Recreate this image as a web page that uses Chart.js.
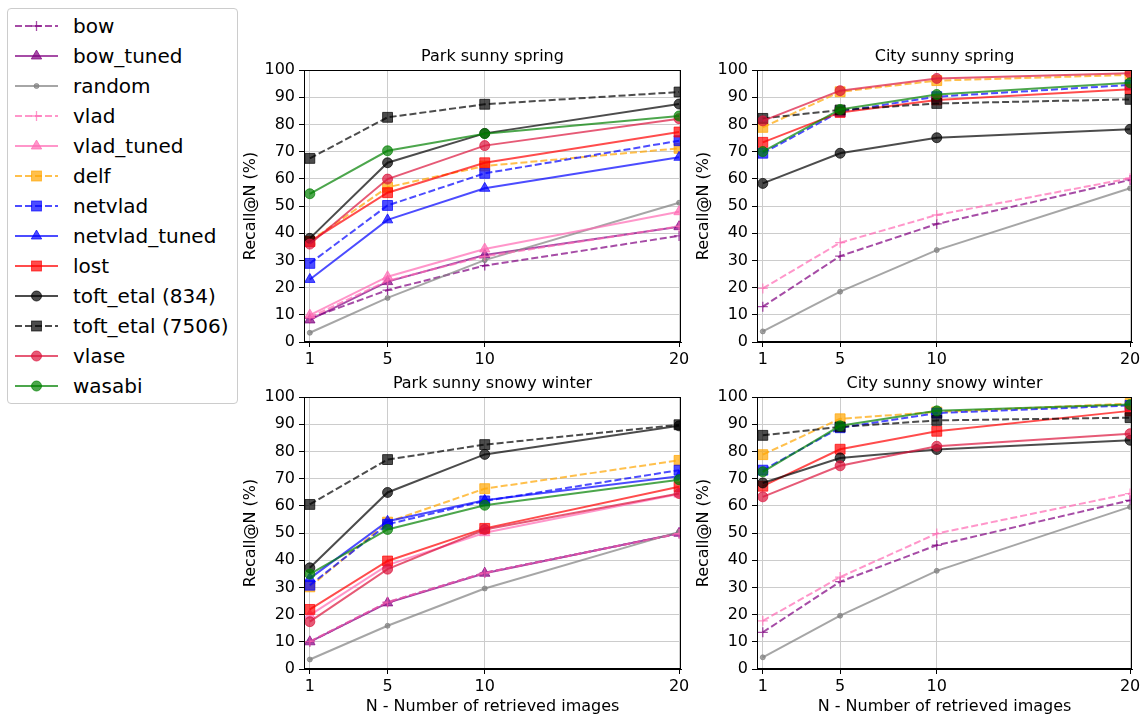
<!DOCTYPE html>
<html>
<head>
<meta charset="utf-8">
<script src="https://cdn.jsdelivr.net/npm/chart.js@4.4.0/dist/chart.umd.min.js"></script>
<style>
  body { margin: 0; background: #fff; overflow: hidden; font-family: "DejaVu Sans", sans-serif; }
  canvas { position: absolute; }
  #legend { position: absolute; left: 7px; top: 8px; width: 229px; height: 394px;
            border: 1px solid #cccccc; border-radius: 4px; background: #fff; }
  .item { position: absolute; left: 0; height: 30px; width: 229px; }
  .item svg { position: absolute; left: 6px; top: 0; }
  .item span { position: absolute; left: 65px; top: 3px; font-size: 20px; line-height: 24px; color: #000; white-space: nowrap; }
</style>
</head>
<body>
<div id="legend"></div>
<canvas id="parkSpring"></canvas>
<canvas id="citySpring"></canvas>
<canvas id="parkWinter"></canvas>
<canvas id="cityWinter"></canvas>
<script>
/* values: Recall@N (%) for N = 1, 5, 10, 20 */
var nValues = [1, 5, 10, 20];
var yTicks = [0, 10, 20, 30, 40, 50, 60, 70, 80, 90, 100];
var methods = ['bow', 'bow_tuned', 'random', 'vlad', 'vlad_tuned', 'delf', 'netvlad',
               'netvlad_tuned', 'lost', 'toft_etal (834)', 'toft_etal (7506)', 'vlase', 'wasabi'];

// one row per method, same order as methods (null = not shown in that panel)
var parkSpring = [
  [8.7, 19.1, 28.1, 39.0],   // bow
  [8.1, 22.2, 32.0, 42.4],   // bow_tuned
  [3.4, 16.2, 30.1, 51.2],   // random
  [9.0, 22.5, 31.5, 42.5],   // vlad
  [9.9, 24.0, 34.2, 47.9],   // vlad_tuned
  [37.0, 56.9, 64.7, 71.2],  // delf
  [28.9, 50.2, 62.0, 74.0],  // netvlad
  [23.0, 44.9, 56.5, 67.9],  // netvlad_tuned
  [36.9, 54.9, 65.9, 77.2],  // lost
  [38.1, 65.9, 76.7, 87.5],  // toft_etal (834)
  [67.5, 82.6, 87.4, 91.9],  // toft_etal (7506)
  [36.0, 59.9, 72.2, 82.1],  // vlase
  [54.5, 70.3, 76.6, 83.1]   // wasabi
];
var citySpring = [
  [13.0, 31.6, 43.4, 59.6],
  null,
  [3.9, 18.5, 33.8, 56.5],
  [19.7, 36.5, 46.7, 60.2],
  null,
  [78.9, 92.0, 96.1, 98.2],
  [69.4, 84.7, 90.2, 94.5],
  null,
  [73.4, 84.4, 89.0, 92.9],
  [58.3, 69.4, 75.1, 78.2],
  [82.2, 85.3, 87.7, 89.2],
  [81.3, 92.4, 96.9, 98.8],
  [70.0, 85.5, 91.0, 95.3]
];
var parkWinter = [
  [10.0, 24.5, 35.4, 49.8],
  [10.0, 24.3, 35.2, 49.9],
  [3.5, 15.9, 29.6, 50.4],
  [10.1, 24.6, 35.3, 49.8],
  [19.8, 38.2, 50.1, 64.3],
  [30.2, 54.0, 66.3, 76.7],
  [30.8, 53.2, 61.8, 73.1],
  [33.3, 54.3, 62.0, 70.9],
  [21.9, 39.7, 51.7, 67.0],
  [37.2, 64.9, 78.9, 89.4],
  [60.5, 77.0, 82.5, 89.8],
  [17.4, 36.7, 51.3, 64.5],
  [34.9, 51.3, 60.2, 69.6]
];
var cityWinter = [
  [13.5, 32.1, 45.5, 62.0],
  null,
  [4.3, 19.6, 36.1, 59.6],
  [17.7, 33.8, 49.8, 64.5],
  null,
  [78.8, 92.0, 94.5, 97.6],
  [73.1, 88.7, 94.1, 96.9],
  null,
  [67.2, 80.8, 87.4, 94.9],
  [68.4, 77.6, 80.7, 84.1],
  [85.9, 89.0, 91.4, 92.4],
  [63.3, 74.7, 81.9, 86.5],
  [72.5, 89.4, 94.9, 97.2]
];

/* styles, matplotlib-ish with alpha 0.7 */
var colors = ['rgba(128,0,128,0.7)', 'rgba(128,0,128,0.7)', 'rgba(128,128,128,0.7)',
              'rgba(255,105,180,0.7)', 'rgba(255,105,180,0.7)', 'rgba(255,165,0,0.7)',
              'rgba(0,0,255,0.7)', 'rgba(0,0,255,0.7)', 'rgba(255,0,0,0.7)',
              'rgba(0,0,0,0.7)', 'rgba(0,0,0,0.7)', 'rgba(220,20,60,0.7)', 'rgba(0,128,0,0.7)'];
var markers = ['+', '^', '.', '+', '^', 's', 's', '^', 's', 'o', 's', 'o', 'o'];
var dashed = [true, false, false, true, false, true, true, false, false, false, true, false, false];

var markerStyle = {
  '+': { style: 'cross', radius: 5 },
  '^': { style: 'triangle', radius: 6 },
  '.': { style: 'circle', radius: 2.5 },
  's': { style: 'rect', radius: 7 },
  'o': { style: 'circle', radius: 5 }
};

Chart.defaults.font.family = '"DejaVu Sans", sans-serif';
Chart.defaults.font.size = 16;
Chart.defaults.color = '#000';

// title over the plot area + the four spines
var panelDeco = {
  id: 'panelDeco',
  afterDraw: function(chart, args, opts) {
    var a = chart.chartArea;
    var ctx = chart.ctx;
    ctx.save();
    ctx.strokeStyle = '#000';
    ctx.lineWidth = 1;
    ctx.strokeRect(a.left + 0.5, a.top + 0.5, a.right - a.left - 1, a.bottom - a.top - 1);
    ctx.font = '16px "DejaVu Sans"';
    ctx.fillStyle = '#000';
    ctx.textAlign = 'center';
    ctx.textBaseline = 'middle';
    ctx.fillText(opts.text, (a.left + a.right) / 2, a.top - 13);
    ctx.restore();
  }
};

function makePanel(id, title, rows, plotLeft, plotWidth, canvasTop, canvasHeight, showXTitle) {
  var canvas = document.getElementById(id);
  var padRight = 14;
  canvas.width = plotWidth + 64 + padRight;
  canvas.height = canvasHeight;
  canvas.style.left = (plotLeft - 64) + 'px';
  canvas.style.top = canvasTop + 'px';

  var datasets = [];
  for (var i = 0; i < methods.length; i++) {
    var ys = rows[i];
    var m = markerStyle[markers[i]];
    var pts = [];
    if (ys) {
      for (var j = 0; j < nValues.length; j++) pts.push({ x: nValues[j], y: ys[j] });
    }
    datasets.push({
      label: methods[i],
      data: pts,
      borderColor: colors[i],
      backgroundColor: colors[i],
      borderWidth: 2,
      borderDash: dashed[i] ? [7, 3] : [],
      pointStyle: m.style,
      pointRadius: m.radius,
      pointBorderWidth: markers[i] == '+' ? 1.3 : 1,
      pointBackgroundColor: colors[i],
      pointBorderColor: colors[i],
      tension: 0,
      clip: 0,
      order: methods.length - i
    });
  }

  new Chart(canvas.getContext('2d'), {
    type: 'line',
    data: { datasets: datasets },
    options: {
      responsive: false,
      animation: false,
      devicePixelRatio: 1,
      layout: { padding: { top: 30, right: padRight, left: 0, bottom: 0 } },
      plugins: {
        legend: { display: false },
        tooltip: { enabled: false },
        panelDeco: { text: title }
      },
      scales: {
        x: {
          type: 'linear',
          min: 0.7,
          max: 20.1,
          afterBuildTicks: function(scale) {
            scale.ticks = nValues.map(function(v) { return { value: v }; });
          },
          afterFit: function(scale) { scale.height = showXTitle ? 49 : 28; },
          ticks: { padding: 3, maxRotation: 0, autoSkip: false,
                   callback: function(v) { return String(v); } },
          grid: { color: '#cccccc', lineWidth: 1, tickColor: '#000', tickLength: 5 },
          border: { color: '#000', width: 1 },
          title: { display: showXTitle, text: 'N - Number of retrieved images',
                   padding: { top: 2, bottom: 2 } }
        },
        y: {
          min: 0,
          max: 100,
          afterBuildTicks: function(scale) {
            scale.ticks = yTicks.map(function(v) { return { value: v }; });
          },
          afterFit: function(scale) { scale.width = 64; },
          ticks: { padding: 4 },
          grid: { color: '#cccccc', lineWidth: 1, tickColor: '#000', tickLength: 5 },
          border: { color: '#000', width: 1 },
          title: { display: true, text: 'Recall@N (%)', padding: { top: 1, bottom: 0 } }
        }
      }
    },
    plugins: [panelDeco]
  });
}

makePanel('parkSpring', 'Park sunny spring', parkSpring, 304, 377, 40, 330, false);
makePanel('citySpring', 'City sunny spring', citySpring, 757, 375, 40, 330, false);
makePanel('parkWinter', 'Park sunny snowy winter', parkWinter, 304, 377, 367, 351, true);
makePanel('cityWinter', 'City sunny snowy winter', cityWinter, 757, 375, 367, 351, true);

/* legend on the left, built from the same lists */
function markerSvg(mk, color, cx, cy) {
  var r = markerStyle[mk].radius;
  if (mk == '+') {
    return '<path d="M' + (cx - r) + ' ' + cy + 'H' + (cx + r) + 'M' + cx + ' ' + (cy - r) + 'V' + (cy + r) +
           '" stroke="' + color + '" stroke-width="1.3"/>';
  }
  if (mk == '^') {
    var w = r * 0.866;
    return '<path d="M' + cx + ' ' + (cy - r) + 'L' + (cx + w) + ' ' + (cy + r / 2) + 'L' + (cx - w) + ' ' + (cy + r / 2) +
           'Z" fill="' + color + '" stroke="' + color + '"/>';
  }
  if (mk == 's') {
    var s = r * Math.SQRT1_2;
    return '<rect x="' + (cx - s) + '" y="' + (cy - s) + '" width="' + (2 * s) + '" height="' + (2 * s) +
           '" fill="' + color + '" stroke="' + color + '"/>';
  }
  return '<circle cx="' + cx + '" cy="' + cy + '" r="' + r + '" fill="' + color + '" stroke="' + color + '"/>';
}

var legendEl = document.getElementById('legend');
for (var i = 0; i < methods.length; i++) {
  var item = document.createElement('div');
  item.className = 'item';
  item.style.top = (2 + i * 30) + 'px';
  var dash = dashed[i] ? ' stroke-dasharray="7 3"' : '';
  item.innerHTML = '<svg width="50" height="30">' +
    '<line x1="1" y1="15" x2="44" y2="15" stroke="' + colors[i] + '" stroke-width="2"' + dash + '/>' +
    markerSvg(markers[i], colors[i], 22.5, 15) + '</svg><span>' + methods[i] + '</span>';
  legendEl.appendChild(item);
}
</script>
</body>
</html>
